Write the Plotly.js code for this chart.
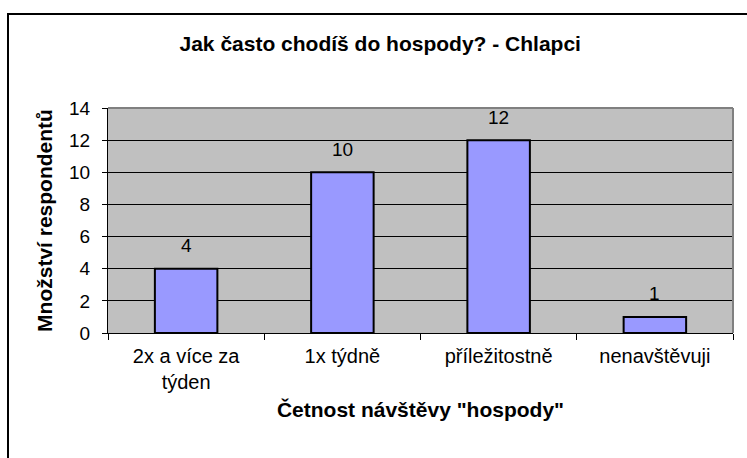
<!DOCTYPE html>
<html>
<head>
<meta charset="utf-8">
<script src="https://cdn.plot.ly/plotly-3.0.1.min.js"></script>
<style>html,body{margin:0;padding:0;background:#fff;}#chart{width:747px;height:458px;}</style>
</head>
<body>
<div id="chart"></div>
<script>
var categories = ["2x a více za<br>týden", "1x týdně", "příležitostně", "nenavštěvuji"];
var values = [4, 10, 12, 1];
var yTicks = [0, 2, 4, 6, 8, 10, 12, 14];
var chartTitle = "Jak často chodíš do hospody? - Chlapci";
var xTitle = "Četnost návštěvy \"hospody\"";
var yTitle = "Množství respondentů";

var font = "Liberation Sans, Arial, sans-serif";

var trace = {
  type: "bar",
  x: categories,
  y: values,
  marker: {color: "#9999FF", line: {color: "#000000", width: 2}},
  hoverinfo: "none"
};

var annotations = categories.map(function (c, i) {
  return {
    x: c, y: values[i], xref: "x", yref: "y",
    text: String(values[i]), showarrow: false,
    yanchor: "middle", yshift: 23,
    font: {family: font, size: 19, color: "#000"}
  };
});

var layout = {
  width: 747, height: 458,
  margin: {l: 108, r: 14, t: 108, b: 125},
  paper_bgcolor: "#ffffff",
  plot_bgcolor: "#C0C0C0",
  showlegend: false,
  bargap: 0.6,
  title: {
    text: "<b>" + chartTitle + "</b>",
    x: 0.509, xref: "container", xanchor: "center",
    y: 1 - 44 / 458, yref: "container", yanchor: "middle",
    font: {family: font, size: 21, color: "#000"}
  },
  xaxis: {
    type: "category",
    showline: true, linecolor: "#000", linewidth: 1,
    ticks: "outside", ticklen: 6, tickcolor: "#000", tickson: "boundaries",
    ticklabelstandoff: 5,
    tickfont: {family: font, size: 20, color: "#000"},
    showgrid: false,
    title: {text: "<b>" + xTitle + "</b>", font: {family: font, size: 21, color: "#000"}, standoff: 10},
    automargin: false
  },
  yaxis: {
    range: [0, 14], tickvals: yTicks, ticktext: yTicks.map(String),
    showline: true, linecolor: "#000", linewidth: 1,
    ticks: "outside", ticklen: 5, tickcolor: "#000",
    ticklabelstandoff: 8,
    tickfont: {family: font, size: 19, color: "#000"},
    showgrid: true, gridcolor: "#000", gridwidth: 1,
    zeroline: false,
    title: {text: "<b>" + yTitle + "</b>", font: {family: font, size: 21, color: "#000"}, standoff: 10},
    automargin: false
  },
  shapes: [
    {type: "line", xref: "paper", yref: "paper", x0: 0, x1: 1, y0: 1, y1: 1, line: {color: "#808080", width: 2}},
    {type: "line", xref: "paper", yref: "paper", x0: 1, x1: 1, y0: 0, y1: 1, line: {color: "#808080", width: 2}},
    {type: "rect", xref: "paper", yref: "paper", x0: -0.16, x1: 1.05, y0: -0.6, y1: (333 - 14) / 225,
     line: {color: "#000", width: 2}, fillcolor: "rgba(0,0,0,0)", layer: "below"}
  ],
  annotations: annotations
};

Plotly.newPlot("chart", [trace], layout, {displayModeBar: false, staticPlot: true});
</script>
</body>
</html>
